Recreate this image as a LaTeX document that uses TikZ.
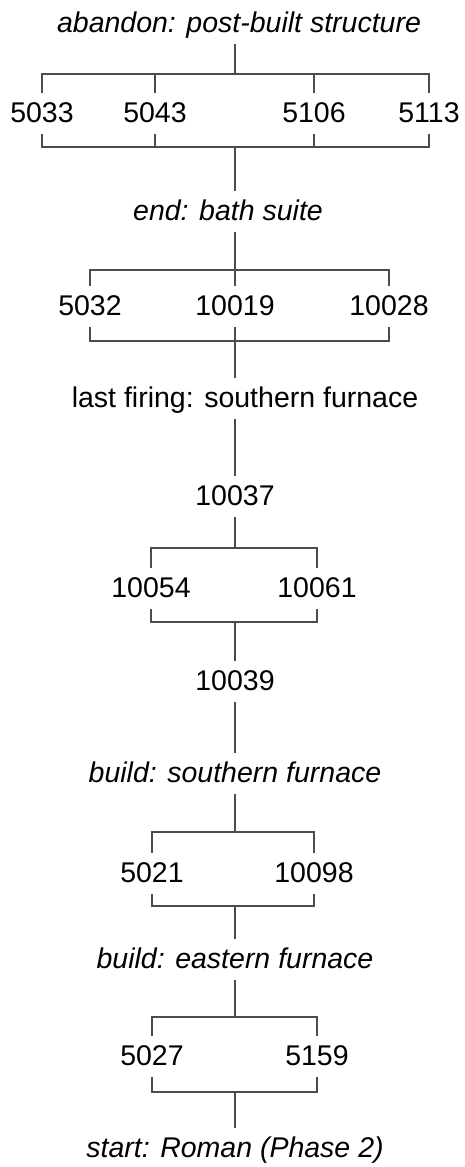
\documentclass[tikz,border=0pt]{standalone}
\usepackage{fontspec}
\setmainfont{Liberation Sans}
\begin{document}
\begin{tikzpicture}[x=1pt,y=-1pt,
    lbl/.style={font=\fontsize{28.5}{34}\selectfont,anchor=base,inner xsep=0pt,inner ysep=8pt,text height=20.5pt,text depth=4pt},
    phase/.style={lbl,font=\fontsize{28.5}{34}\selectfont\itshape},
    link/.style={draw=black!70,line width=1.2pt}]
        \useasboundingbox (0,0) rectangle (464,1167);
        % boundaries, events and phases
        \node[phase] (abandon) at (239,32) {abandon: post-built structure};
        \node[lbl] (n5033) at (42,122) {5033};
        \node[lbl] (n5043) at (155,122) {5043};
        \node[lbl] (n5106) at (314,122) {5106};
        \node[lbl] (n5113) at (429,122) {5113};
        \node[phase] (end) at (228,220) {end: bath suite};
        \node[lbl] (n5032) at (90,315) {5032};
        \node[lbl] (n10019) at (235,315) {10019};
        \node[lbl] (n10028) at (389,315) {10028};
        \node[lbl] (firing) at (245,407) {last firing: southern furnace};
        \node[lbl] (n10037) at (235,505) {10037};
        \node[lbl] (n10054) at (151,597) {10054};
        \node[lbl] (n10061) at (317,597) {10061};
        \node[lbl] (n10039) at (235,690) {10039};
        \node[phase] (southern) at (235,782) {build: southern furnace};
        \node[lbl] (n5021) at (152,882) {5021};
        \node[lbl] (n10098) at (314,882) {10098};
        \node[phase] (eastern) at (235,968) {build: eastern furnace};
        \node[lbl] (n5027) at (152,1065) {5027};
        \node[lbl] (n5159) at (317,1065) {5159};
        \node[phase] (start) at (235,1157) {start: Roman (Phase 2)};
        % brackets
        \coordinate (t1) at (235,74);
        \coordinate (b1) at (235,147);
        \coordinate (t2) at (235,270);
        \coordinate (b2) at (235,341);
        \coordinate (t3) at (235,548);
        \coordinate (b3) at (235,622);
        \coordinate (t4) at (235,832);
        \coordinate (b4) at (235,906);
        \coordinate (t5) at (235,1017);
        \coordinate (b5) at (235,1092);
        \draw[link] (t1 |- abandon.south) -- (t1);
        \foreach \n in {n5033,n5043,n5106,n5113}
            \draw[link] (\n.north) |- (t1) (\n.south) |- (b1);
        \draw[link] (b1) -- (b1 |- end.north);
        \draw[link] (t2 |- end.south) -- (t2);
        \foreach \n in {n5032,n10019,n10028}
            \draw[link] (\n.north) |- (t2) (\n.south) |- (b2);
        \draw[link] (b2) -- (b2 |- firing.north);
        \draw[link] (n10037 |- firing.south) -- (n10037);
        \draw[link] (n10037) -- (t3);
        \foreach \n in {n10054,n10061}
            \draw[link] (\n.north) |- (t3) (\n.south) |- (b3);
        \draw[link] (b3) -- (n10039);
        \draw[link] (n10039) -- (southern);
        \draw[link] (southern) -- (t4);
        \foreach \n in {n5021,n10098}
            \draw[link] (\n.north) |- (t4) (\n.south) |- (b4);
        \draw[link] (b4) -- (eastern);
        \draw[link] (eastern) -- (t5);
        \foreach \n in {n5027,n5159}
            \draw[link] (\n.north) |- (t5) (\n.south) |- (b5);
        \draw[link] (b5) -- (start);
    \end{tikzpicture}
\end{document}
